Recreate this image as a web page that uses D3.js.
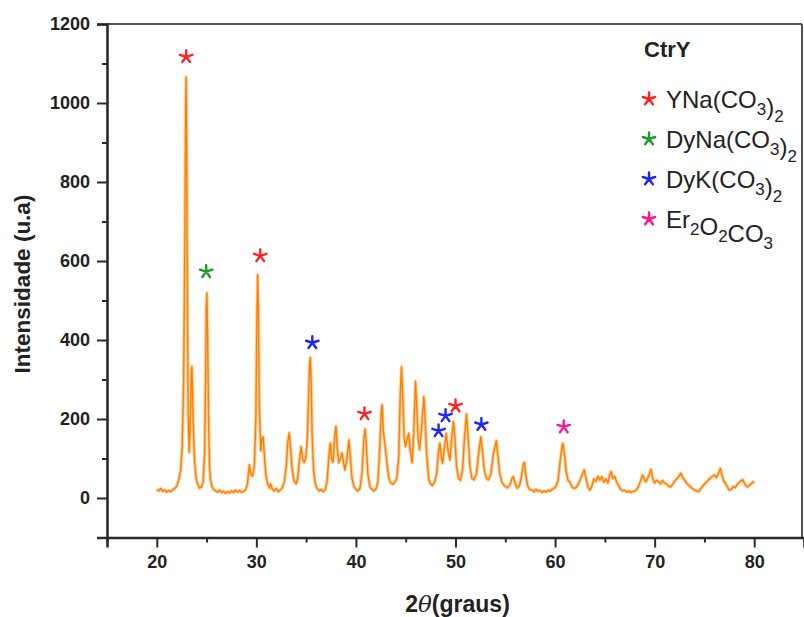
<!DOCTYPE html>
<html>
<head>
<meta charset="utf-8">
<script src="https://cdn.jsdelivr.net/npm/d3@7"></script>
<style>
  html, body { margin: 0; padding: 0; background: #fff; }
  svg { display: block; font-family: "Liberation Sans", Arial, sans-serif; }
</style>
</head>
<body>
<svg id="chart" width="804" height="617"></svg>
<script>
// XRD pattern of sample CtrY: 2θ (degrees) and intensity (arb. units)
const twoTheta = [
  20.0, 20.2, 20.4, 20.6, 20.8, 21.0, 21.2, 21.4, 21.6, 21.8,
  22.0, 22.2, 22.4, 22.55, 22.7, 22.8, 22.9, 22.95, 23.0, 23.08,
  23.15, 23.25, 23.35, 23.45, 23.52, 23.6, 23.7, 23.8, 23.95, 24.1,
  24.3, 24.5, 24.65, 24.8, 24.9, 24.97, 25.03, 25.1, 25.2, 25.3,
  25.4, 25.55, 25.7, 25.9, 26.1, 26.3, 26.5, 26.7, 26.9, 27.1,
  27.3, 27.5, 27.7, 27.9, 28.1, 28.3, 28.5, 28.7, 28.9, 29.1,
  29.3, 29.45, 29.6, 29.8, 29.95, 30.05, 30.13, 30.2, 30.3, 30.45,
  30.55, 30.68, 30.8, 30.95, 31.1, 31.3, 31.45, 31.6, 31.8, 32.0,
  32.2, 32.4, 32.6, 32.8, 33.0, 33.15, 33.3, 33.45, 33.6, 33.8,
  34.0, 34.15, 34.3, 34.5, 34.65, 34.8, 34.95, 35.1, 35.25, 35.35,
  35.42, 35.5, 35.6, 35.75, 35.9, 36.1, 36.3, 36.5, 36.7, 36.9,
  37.1, 37.3, 37.43, 37.55, 37.7, 37.85, 38.0, 38.12, 38.27, 38.45,
  38.6, 38.75, 38.9, 39.1, 39.3, 39.45, 39.6, 39.8, 40.0, 40.2,
  40.4, 40.6, 40.8, 40.92, 41.05, 41.2, 41.4, 41.6, 41.8, 42.0,
  42.2, 42.4, 42.55, 42.63, 42.75, 42.97, 43.15, 43.3, 43.5, 43.7,
  43.9, 44.1, 44.3, 44.45, 44.58, 44.7, 44.85, 44.98, 45.15, 45.3,
  45.45, 45.65, 45.8, 45.98, 46.1, 46.25, 46.4, 46.6, 46.82, 46.95,
  47.1, 47.33, 47.5, 47.7, 47.9, 48.1, 48.3, 48.43, 48.6, 48.72,
  48.9, 49.07, 49.25, 49.44, 49.6, 49.8, 49.95, 50.1, 50.3, 50.5,
  50.7, 50.9, 51.1, 51.25, 51.45, 51.65, 51.85, 52.1, 52.35, 52.55,
  52.7, 52.9, 53.1, 53.3, 53.55, 53.8, 54.1, 54.25, 54.45, 54.7,
  54.95, 55.2, 55.45, 55.65, 55.8, 56.0, 56.2, 56.4, 56.6, 56.8,
  56.92, 57.05, 57.25, 57.45, 57.7, 57.9, 58.1, 58.3, 58.5, 58.7,
  58.9, 59.1, 59.3, 59.5, 59.7, 59.9, 60.1, 60.3, 60.5, 60.7,
  60.8, 60.95, 61.1, 61.3, 61.5, 61.7, 61.9, 62.1, 62.3, 62.5,
  62.75, 62.92, 63.1, 63.3, 63.5, 63.7, 63.9, 64.1, 64.3, 64.5,
  64.7, 64.9, 65.1, 65.3, 65.5, 65.65, 65.8, 66.0, 66.2, 66.4,
  66.6, 66.8, 67.0, 67.2, 67.4, 67.6, 67.8, 68.0, 68.2, 68.4,
  68.6, 68.8, 68.95, 69.1, 69.3, 69.5, 69.63, 69.8, 70.0, 70.2,
  70.4, 70.6, 70.8, 71.0, 71.2, 71.4, 71.6, 71.8, 72.0, 72.2,
  72.45, 72.65, 72.85, 73.0, 73.2, 73.4, 73.6, 73.8, 74.0, 74.2,
  74.4, 74.6, 74.8, 75.0, 75.2, 75.4, 75.6, 75.8, 76.0, 76.2,
  76.4, 76.6, 76.75, 76.9, 77.1, 77.3, 77.5, 77.7, 77.9, 78.1,
  78.3, 78.5, 78.7, 78.85, 79.0, 79.2, 79.35, 79.5, 79.7, 79.85,
  80.0
];
const intensity = [
  22, 18, 24, 17, 20, 15, 19, 16, 21, 24,
  30, 45, 70, 130, 300, 600, 980, 1066, 900, 500,
  220, 115, 180, 300, 333, 260, 150, 90, 50, 35,
  25, 28, 40, 110, 300, 480, 519, 420, 200, 80,
  45, 28, 22, 18, 15, 20, 14, 17, 12, 16,
  13, 18, 14, 20, 15, 19, 14, 17, 20, 35,
  84, 60, 55, 80, 200, 450, 565, 480, 230, 120,
  150, 155, 110, 60, 40, 25, 35, 22, 18, 24,
  16, 20, 26, 40, 80, 140, 165, 120, 70, 42,
  36, 50, 90, 130, 100, 90, 100, 140, 260, 340,
  355, 300, 160, 70, 38, 24, 18, 22, 16, 20,
  40, 110, 139, 100, 90, 150, 182, 130, 89, 100,
  114, 90, 71, 100, 147, 100, 50, 29, 22, 18,
  24, 60, 150, 175, 130, 60, 29, 22, 18, 22,
  40, 130, 220, 236, 170, 122, 80, 50, 38, 35,
  40, 50, 105, 260, 332, 260, 150, 130, 150, 164,
  120, 89, 160, 295, 240, 150, 122, 180, 257, 200,
  110, 46, 35, 32, 40, 60, 120, 139, 100, 88,
  130, 164, 120, 96, 150, 193, 150, 80, 50, 45,
  70, 150, 213, 160, 80, 50, 46, 60, 120, 155,
  120, 70, 50, 46, 60, 110, 145, 110, 60, 38,
  30, 26, 32, 48, 54, 36, 25, 30, 50, 85,
  90, 60, 30, 22, 20, 16, 22, 17, 19, 14,
  18, 15, 20, 17, 22, 24, 30, 45, 90, 130,
  138, 110, 70, 45, 40, 28, 24, 26, 34, 45,
  60, 71, 50, 28, 20, 30, 48, 42, 55, 45,
  54, 40, 48, 38, 60, 67, 50, 54, 40, 30,
  22, 18, 20, 15, 18, 14, 16, 17, 22, 30,
  45, 58, 48, 41, 50, 62, 73, 50, 38, 45,
  41, 36, 44, 38, 35, 30, 28, 34, 42, 48,
  55, 63, 50, 46, 38, 33, 28, 24, 20, 18,
  16, 22, 29, 35, 40, 46, 50, 55, 58, 52,
  62, 75, 60, 45, 38, 28, 20, 22, 29, 26,
  34, 40, 44, 46, 38, 30, 28, 32, 36, 41,
  38
];

// Phase assignment markers: position (2θ, height) and phase index
const markerTheta = [22.95, 24.96, 30.39, 35.62, 40.86, 48.3, 49.0, 50.0, 52.6, 60.87];
const markerHeight = [1117, 573, 613, 393, 213, 170, 208, 233, 186, 180];
const markerPhase = [0, 1, 0, 2, 0, 2, 2, 0, 2, 3];

// Legend: sample name and phases ("_" marks the next character as subscript)
const sampleName = "CtrY";
const phaseLabels = ["YNa(CO_3)_2", "DyNa(CO_3)_2", "DyK(CO_3)_2", "Er_2O_2CO_3"];
const phaseColors = ["#ff2222", "#1f9a2a", "#2222ff", "#ff1493"];

// Axis ticks
const xMajorTicks = [20, 30, 40, 50, 60, 70, 80];
const xMinorTicks = [15, 25, 35, 45, 55, 65, 75, 85];
const yMajorTicks = [0, 200, 400, 600, 800, 1000, 1200];
const yMinorTicks = [-100, 100, 300, 500, 700, 900, 1100];

const svg = d3.select("#chart");
const plotLeft = 107, plotRight = 804, plotTop = 24, plotBottom = 537.5;

const x = d3.scaleLinear().domain([15, 85]).range([plotLeft, plotRight]);
const y = d3.scaleLinear().domain([-100, 1200]).range([plotBottom, plotTop]);

const axisColor = "#2a2a2a";

// Frame: top and right borders
svg.append("line").attr("x1", plotLeft).attr("x2", plotRight - 2).attr("y1", plotTop).attr("y2", plotTop)
  .attr("stroke", "#555").attr("stroke-width", 2);
svg.append("line").attr("x1", plotRight - 2).attr("x2", plotRight - 2).attr("y1", plotTop).attr("y2", plotBottom)
  .attr("stroke", "#555").attr("stroke-width", 2);

// Bottom axis
svg.append("g").attr("transform", `translate(0,${plotBottom})`)
  .call(d3.axisBottom(x).tickValues(xMajorTicks).tickSize(10).tickPadding(8).tickFormat(d3.format("d")));
svg.append("g").attr("transform", `translate(0,${plotBottom})`)
  .call(d3.axisBottom(x).tickValues(xMinorTicks).tickSize(5).tickFormat(""))
  .call(g => g.select(".domain").remove());

// Left axis
svg.append("g").attr("transform", `translate(${plotLeft},0)`)
  .call(d3.axisLeft(y).tickValues(yMajorTicks).tickSize(10).tickPadding(7).tickFormat(d3.format("d")));
svg.append("g").attr("transform", `translate(${plotLeft},0)`)
  .call(d3.axisLeft(y).tickValues(yMinorTicks).tickSize(5).tickFormat(""))
  .call(g => g.select(".domain").remove());

svg.selectAll(".domain").attr("stroke", axisColor).attr("stroke-width", 2.6);
svg.selectAll(".tick line").attr("stroke", axisColor).attr("stroke-width", 2);
svg.selectAll(".tick text")
  .attr("fill", "#222")
  .style("font-family", "'Liberation Sans', Arial, sans-serif")
  .style("font-weight", "bold")
  .style("font-size", "18px");

// Axis titles
const xTitle = svg.append("text")
  .attr("x", (plotLeft + plotRight) / 2 + 2).attr("y", 612)
  .attr("text-anchor", "middle")
  .style("font-weight", "bold").style("font-size", "23px").attr("fill", "#222");
xTitle.append("tspan").text("2");
xTitle.append("tspan").text("θ").style("font-style", "italic").style("font-weight", "normal")
  .style("font-family", "'DejaVu Serif', serif");
xTitle.append("tspan").text("(graus)");

svg.append("text")
  .attr("transform", `translate(30,${284}) rotate(-90)`)
  .attr("text-anchor", "middle")
  .style("font-weight", "bold").style("font-size", "22.5px").attr("fill", "#222")
  .text("Intensidade (u.a)");

// Diffraction trace
const pattern = twoTheta.map((t, i) => [t, intensity[i]]);
const line = d3.line().x(d => x(d[0])).y(d => y(d[1]));

svg.append("path").datum(pattern)
  .attr("d", line).attr("fill", "none")
  .attr("stroke", "#ffbe78").attr("stroke-width", 3.4).attr("stroke-opacity", 0.75)
  .attr("stroke-linejoin", "round");
svg.append("path").datum(pattern)
  .attr("d", line).attr("fill", "none")
  .attr("stroke", "#ff7f00").attr("stroke-width", 1.4)
  .attr("stroke-linejoin", "round");

// Five-armed asterisk symbol
const asterisk = {
  draw(context, size) {
    const r = Math.sqrt(size) / 2;
    for (let k = 0; k < 5; k++) {
      const a = -Math.PI / 2 + k * 2 * Math.PI / 5;
      context.moveTo(0, 0);
      context.lineTo(r * Math.cos(a), r * Math.sin(a));
    }
  }
};
const star = d3.symbol().type(asterisk).size(170);

svg.append("g").selectAll("path")
  .data(markerTheta.map((t, i) => ({ t, h: markerHeight[i], p: markerPhase[i] })))
  .join("path")
  .attr("transform", d => `translate(${x(d.t)},${y(d.h)})`)
  .attr("d", star)
  .attr("fill", "none")
  .attr("stroke", d => phaseColors[d.p])
  .attr("stroke-width", 2.4)
  .attr("stroke-linecap", "round");

// Legend
const legend = svg.append("g");
legend.append("text")
  .attr("x", 644).attr("y", 57)
  .style("font-weight", "bold").style("font-size", "22px").attr("fill", "#222")
  .text(sampleName);

phaseLabels.forEach((label, i) => {
  const baseY = 108 + i * 40;
  legend.append("path")
    .attr("transform", `translate(649,${baseY - 9})`)
    .attr("d", star)
    .attr("fill", "none")
    .attr("stroke", phaseColors[i])
    .attr("stroke-width", 2.4)
    .attr("stroke-linecap", "round");
  const t = legend.append("text")
    .attr("x", 666).attr("y", baseY)
    .style("font-size", "24px").attr("fill", "#222");
  let sub = false;
  let buf = "";
  const flush = () => {
    if (buf) { t.append("tspan").text(buf); buf = ""; }
  };
  for (const ch of label) {
    if (ch === "_") { sub = true; continue; }
    if (sub) {
      flush();
      t.append("tspan").attr("dy", 7).style("font-size", "17px").text(ch);
      t.append("tspan").attr("dy", -7).text("");
      sub = false;
    } else {
      buf += ch;
    }
  }
  flush();
});
</script>
</body>
</html>
